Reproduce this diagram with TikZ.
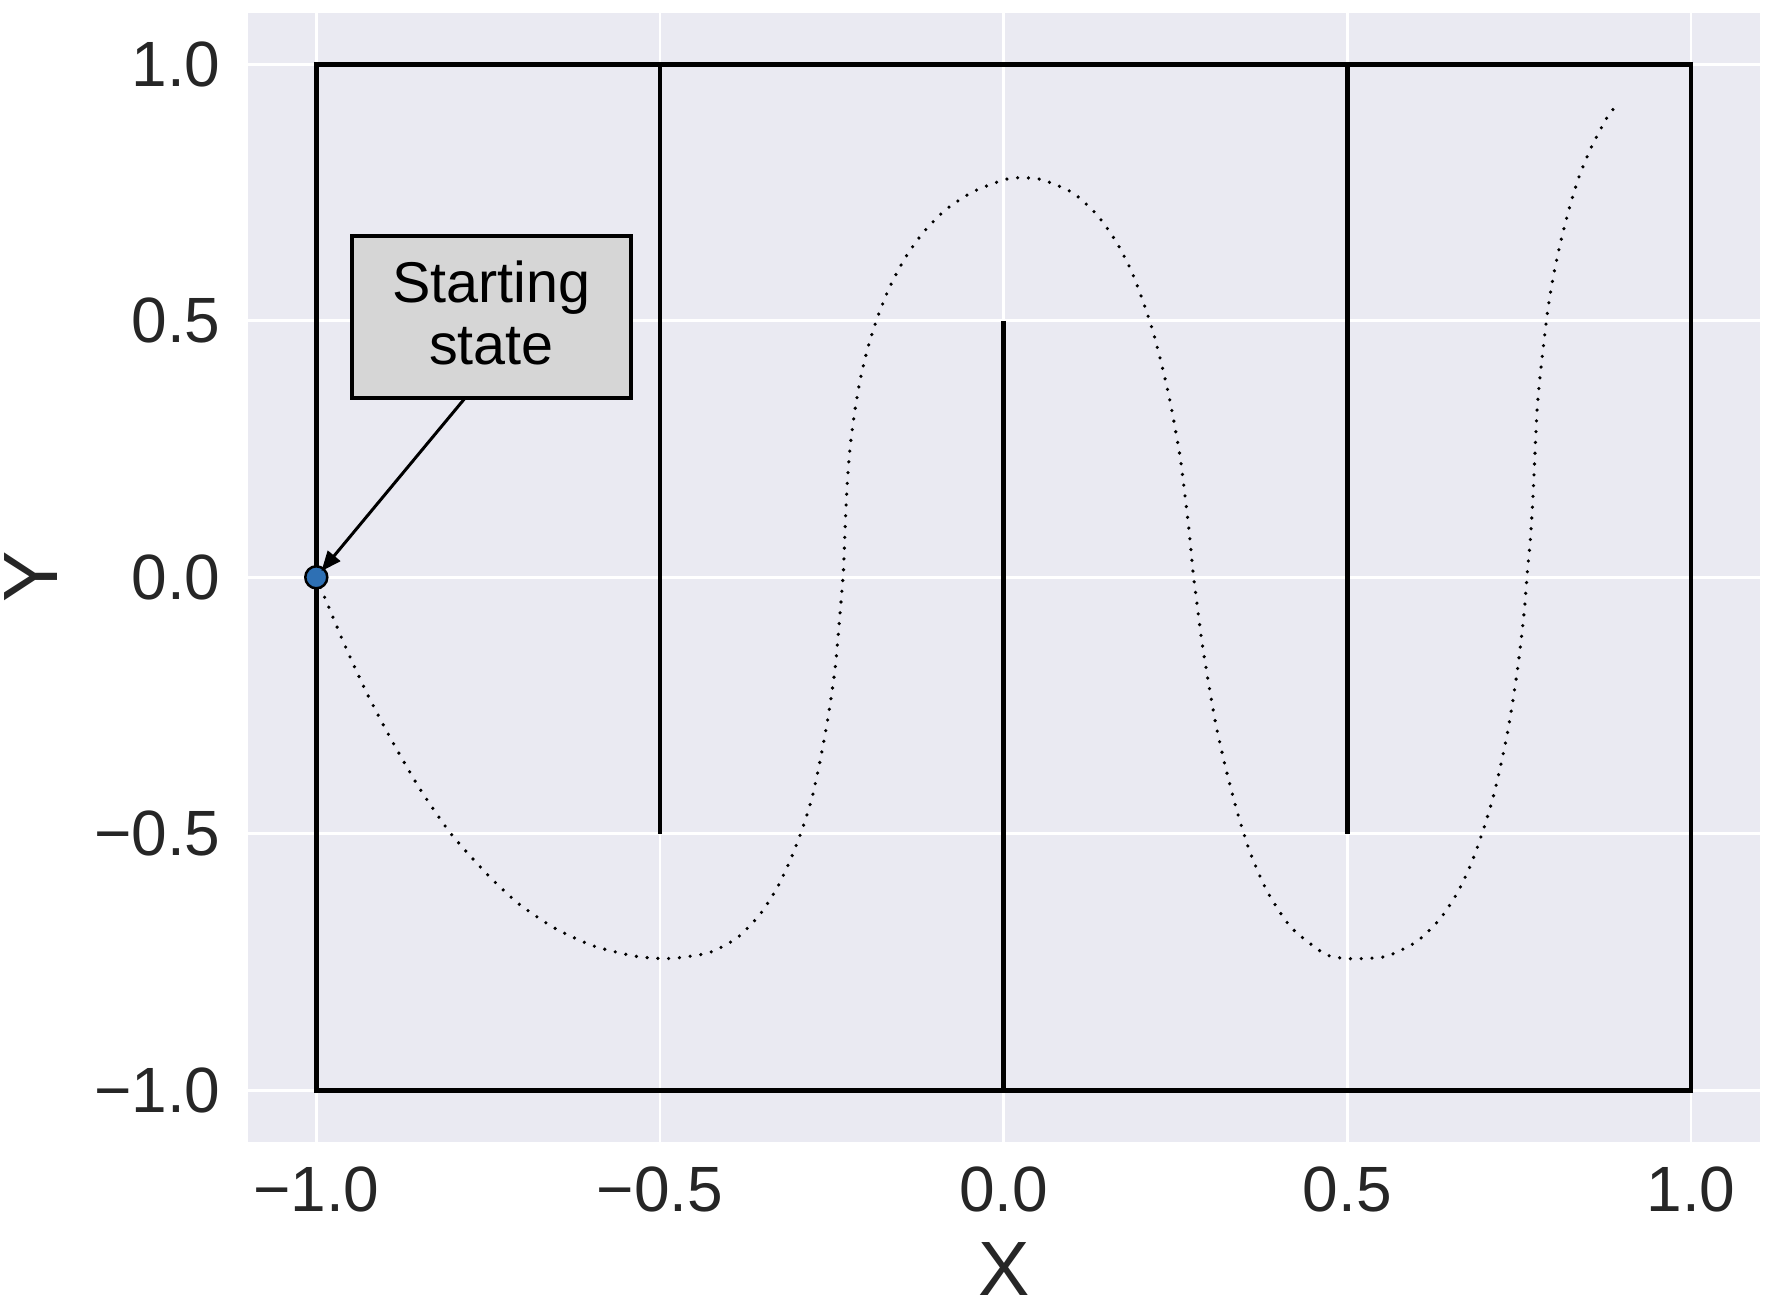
\documentclass[tikz,border=0pt]{standalone}
\usepackage{fontspec}
\setmainfont{Liberation Sans}
\usetikzlibrary{arrows.meta}
\definecolor{bgc}{HTML}{EAEAF2}
\definecolor{tickc}{HTML}{262626}
\definecolor{mk}{RGB}{46,112,180}
\definecolor{boxc}{HTML}{D6D6D6}
\begin{document}
\begin{tikzpicture}[x=0.5pt,y=-0.5pt,
  gridline/.style={white, line width=1.4pt},
  wall/.style={black, line width=2.25pt},
  traj/.style={black, line width=1.8pt, line cap=round, dash pattern=on 0pt off 5.4pt},
  ticklab/.style={text=tickc, inner sep=0pt, font=\fontsize{32}{38}\selectfont},
  axlab/.style={text=tickc, inner sep=0pt, font=\fontsize{38.5}{44}\selectfont},
  annbox/.style={draw=black, line width=2pt, fill=boxc, minimum width=139.5pt, minimum height=81pt, inner sep=0pt, outer sep=0pt},
  anntext/.style={inner sep=0pt, align=center, font=\fontsize{28.75}{31}\selectfont},
  marker/.style={circle, fill=mk, draw=black, line width=1.25pt, minimum size=11pt, inner sep=0pt, outer sep=0pt},
  annarrow/.style={black, line width=1.5pt, -{Triangle[length=10pt,width=8pt]}, shorten >=4pt}]
\useasboundingbox (0,0) rectangle (1768,1312);
\fill[white] (0,0) rectangle (1768,1312);
\begin{scope}[shift={(1003.6,577.3)}, x=343.65pt, y=256.5pt]
  % background and grid
  \fill[bgc] (-1.1,-1.1) rectangle (1.1,1.1);
  \foreach \v in {-1,-0.5,0,0.5,1} {
    \draw[gridline] (\v,-1.1) -- (\v,1.1);
    \draw[gridline] (-1.1,\v) -- (1.1,\v);
  }
  % maze walls
  \draw[wall] (-1,-1) rectangle (1,1);
  \draw[wall] (-0.5,1) -- (-0.5,-0.5);
  \draw[wall] (0,0.5) -- (0,-1);
  \draw[wall] (0.5,1) -- (0.5,-0.5);
  % trajectory
  \draw[traj] plot[smooth, tension=0.4] coordinates {
    (-1,0) (-0.990,-0.032) (-0.959,-0.131) (-0.926,-0.227) (-0.889,-0.321)
    (-0.849,-0.413) (-0.804,-0.500) (-0.752,-0.578) (-0.706,-0.636) (-0.653,-0.684)
    (-0.596,-0.719) (-0.534,-0.739) (-0.485,-0.743) (-0.429,-0.732) (-0.388,-0.703)
    (-0.355,-0.658) (-0.329,-0.604) (-0.309,-0.547) (-0.292,-0.487) (-0.278,-0.426)
    (-0.265,-0.344) (-0.254,-0.261) (-0.245,-0.176) (-0.238,-0.070) (-0.233,0.014)
    (-0.230,0.118) (-0.227,0.194) (-0.223,0.258) (-0.217,0.320) (-0.209,0.383)
    (-0.198,0.445) (-0.184,0.505) (-0.166,0.565) (-0.144,0.621) (-0.117,0.672)
    (-0.084,0.717) (-0.044,0.752) (0.001,0.775) (0.024,0.779) (0.056,0.775)
    (0.100,0.750) (0.135,0.708) (0.163,0.656) (0.185,0.600) (0.202,0.541)
    (0.217,0.481) (0.229,0.420) (0.240,0.357) (0.249,0.295) (0.257,0.233)
    (0.263,0.170) (0.270,0.089) (0.276,0.006) (0.282,-0.058) (0.288,-0.121)
    (0.298,-0.205) (0.309,-0.288) (0.323,-0.371) (0.339,-0.453) (0.358,-0.534)
    (0.383,-0.611) (0.418,-0.682) (0.467,-0.734) (0.498,-0.743) (0.527,-0.743)
    (0.559,-0.738) (0.601,-0.710) (0.635,-0.666) (0.661,-0.613) (0.681,-0.556)
    (0.697,-0.496) (0.711,-0.435) (0.722,-0.374) (0.732,-0.311) (0.740,-0.249)
    (0.747,-0.186) (0.753,-0.122) (0.758,-0.059) (0.762,0.010) (0.766,0.067)
    (0.770,0.151) (0.773,0.238) (0.776,0.322) (0.780,0.385) (0.787,0.470)
    (0.793,0.533) (0.801,0.595) (0.811,0.657) (0.823,0.719) (0.837,0.780)
    (0.855,0.838) (0.877,0.894) (0.896,0.928)};
  % starting state marker
  \node[marker] (s0) at (-1,0) {};
  % tick labels
  \node[ticklab] (xt1) at (-1,-1.1924) {−1.0};
  \node[ticklab] (xt2) at (-0.5,-1.1924) {−0.5};
  \node[ticklab] (xt3) at (0,-1.1924) {0.0};
  \node[ticklab] (xt4) at (0.5,-1.1924) {0.5};
  \node[ticklab] (xt5) at (1,-1.1924) {1.0};
  \node[ticklab, anchor=east] (yt1) at (-1.1387,1) {1.0};
  \node[ticklab, anchor=east] (yt2) at (-1.1387,0.5) {0.5};
  \node[ticklab, anchor=east] (yt3) at (-1.1387,0) {0.0};
  \node[ticklab, anchor=east] (yt4) at (-1.1387,-0.5) {−0.5};
  \node[ticklab, anchor=east] (yt5) at (-1.1387,-1) {−1.0};
  % axis labels
  \node[axlab] (xlab) at (0.0006,-1.3476) {X};
  \node[axlab, rotate=90] (ylab) at (-1.4151,0) {Y};
  % annotation
  \node[annbox] (box) at (-0.7451,0.5071) {};
  \node[anntext] (boxlabel) at (-0.7451,0.5152) {Starting\\state};
  \draw[annarrow] ([xshift=-13.25pt]box.south) -- (s0.center);
\end{scope}
\end{tikzpicture}
\end{document}
